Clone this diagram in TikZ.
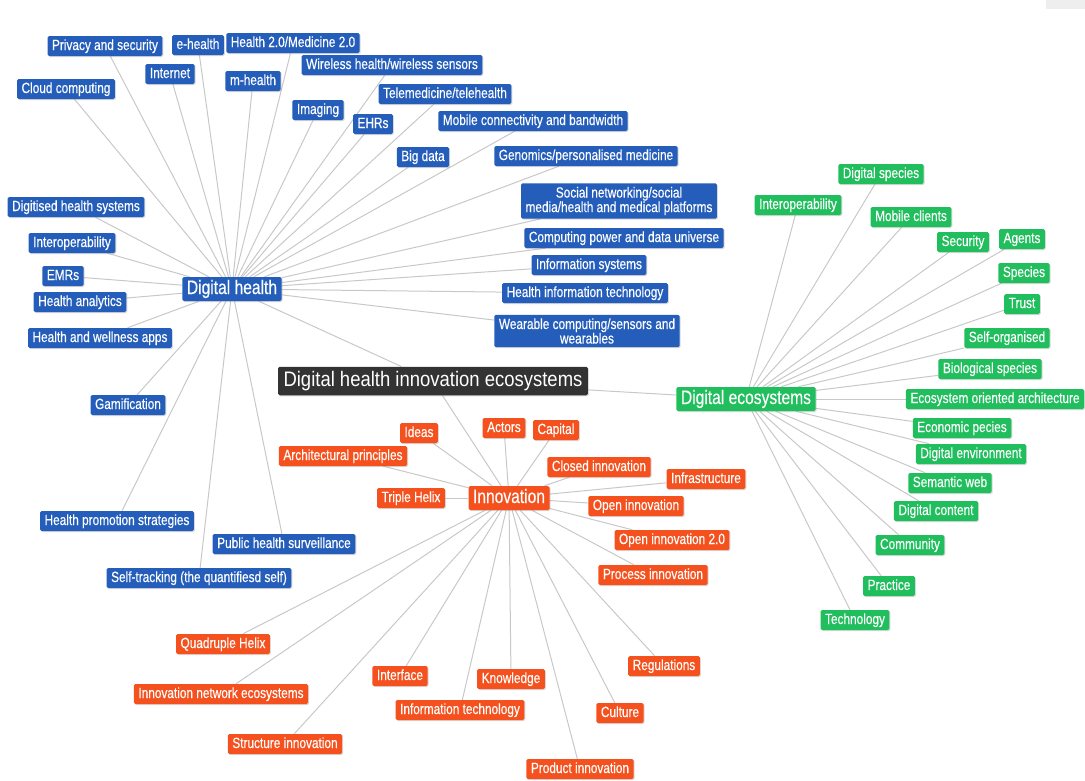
\documentclass[tikz,border=0pt]{standalone}
\usepackage{fontspec}
\setmainfont[FakeStretch=0.8,FakeBold=0.3]{Liberation Sans}
\newfontfamily\hubfont[FakeStretch=0.88]{Liberation Sans}
\usetikzlibrary{shadows,backgrounds}
\definecolor{dhblue}{RGB}{36,94,186}
\definecolor{degreen}{RGB}{32,190,92}
\definecolor{innored}{RGB}{244,81,30}
\definecolor{hubdark}{RGB}{51,51,51}
\definecolor{linkgray}{RGB}{200,200,200}
\definecolor{cornergray}{RGB}{238,238,238}
\tikzset{
  box/.style={text=white, rounded corners=1.5pt,
    drop shadow={shadow xshift=1pt, shadow yshift=-1pt, opacity=0.3}},
  leaf/.style={box, font=\fontsize{14.8}{14.8}\selectfont, inner xsep=4.5pt,
    inner ysep=3pt, text height=11pt, text depth=3pt},
  leaftwo/.style={box, font=\fontsize{14.8}{14.5}\selectfont, inner xsep=4.5pt,
    inner ysep=3.5pt, align=center},
  hub/.style={box, font=\fontsize{19.5}{19.5}\selectfont, inner xsep=4.5pt,
    inner ysep=3pt, text height=14pt, text depth=4pt},
  dh/.style={fill=dhblue},
  de/.style={fill=degreen},
  inno/.style={fill=innored},
  link/.style={draw=linkgray, line width=1pt}
}
\begin{document}
\begin{tikzpicture}[x=1pt,y=-1pt]
 \useasboundingbox (0,0) rectangle (1085,780);
 \fill[cornergray] (1046,0) rectangle (1085,9);

 %hubs
 \node[box, fill=hubdark, font=\hubfont\fontsize{21}{21}\selectfont, inner xsep=5.5pt,
   inner ysep=4.5pt, text height=15pt, text depth=4.5pt] (dhie) at (433,381) {Digital health innovation ecosystems};
 \node[hub, dh] (dhealth) at (232,289) {Digital health};
 \node[hub, de] (decosys) at (746,399) {Digital ecosystems};
 \node[hub, inno] (innovation) at (509,498) {Innovation};

 %digital health
 \node[leaf, dh] (privacy) at (105,46) {Privacy and security};
 \node[leaf, dh] (ehealth) at (198,45) {e-health};
 \node[leaf, dh] (healthtwo) at (293,43) {Health 2.0/Medicine 2.0};
 \node[leaf, dh] (internet) at (170,74) {Internet};
 \node[leaf, dh] (mhealth) at (253,81) {m-health};
 \node[leaf, dh] (cloud) at (66,89) {Cloud computing};
 \node[leaf, dh] (wireless) at (392,65) {Wireless health/wireless sensors};
 \node[leaf, dh] (telemed) at (445,94) {Telemedicine/telehealth};
 \node[leaf, dh] (imaging) at (318,110) {Imaging};
 \node[leaf, dh] (ehrs) at (373,124) {EHRs};
 \node[leaf, dh] (mobile) at (533,121) {Mobile connectivity and bandwidth};
 \node[leaf, dh] (bigdata) at (423,157) {Big data};
 \node[leaf, dh] (genomics) at (586,156) {Genomics/personalised medicine};
 \node[leaftwo, dh] (social) at (619,201) {Social networking/social\\media/health and medical platforms};
 \node[leaf, dh] (computing) at (624,238) {Computing power and data universe};
 \node[leaf, dh] (infosys) at (589,265) {Information systems};
 \node[leaf, dh] (healthit) at (585,293) {Health information technology};
 \node[leaftwo, dh] (wearable) at (587,331) {Wearable computing/sensors and\\wearables};
 \node[leaf, dh] (digitised) at (76,207) {Digitised health systems};
 \node[leaf, dh] (interopdh) at (72,243) {Interoperability};
 \node[leaf, dh] (emrs) at (63,276) {EMRs};
 \node[leaf, dh] (analytics) at (80,302) {Health analytics};
 \node[leaf, dh] (wellness) at (100,338) {Health and wellness apps};
 \node[leaf, dh] (gamification) at (128,405) {Gamification};
 \node[leaf, dh] (promotion) at (117,521) {Health promotion strategies};
 \node[leaf, dh] (surveillance) at (284,544) {Public health surveillance};
 \node[leaf, dh] (selftracking) at (199,578) {Self-tracking (the quantifiesd self)};

 %digital ecosystems
 \node[leaf, de] (digspecies) at (881,174) {Digital species};
 \node[leaf, de] (interopde) at (798,205) {Interoperability};
 \node[leaf, de] (mobileclients) at (911,217) {Mobile clients};
 \node[leaf, de] (security) at (963,242) {Security};
 \node[leaf, de] (agents) at (1022,239) {Agents};
 \node[leaf, de] (species) at (1024,273) {Species};
 \node[leaf, de] (trust) at (1022,304) {Trust};
 \node[leaf, de] (selforg) at (1007,338) {Self-organised};
 \node[leaf, de] (biospecies) at (990,369) {Biological species};
 \node[leaf, de] (ecoarch) at (995,399) {Ecosystem oriented architecture};
 \node[leaf, de] (economic) at (962,428) {Economic pecies};
 \node[leaf, de] (digenv) at (971,454) {Digital environment};
 \node[leaf, de] (semantic) at (950,483) {Semantic web};
 \node[leaf, de] (digcontent) at (936,511) {Digital content};
 \node[leaf, de] (community) at (910,545) {Community};
 \node[leaf, de] (practice) at (889,586) {Practice};
 \node[leaf, de] (technology) at (855,620) {Technology};

 %innovation
 \node[leaf, inno] (ideas) at (419,433) {Ideas};
 \node[leaf, inno] (actors) at (504,428) {Actors};
 \node[leaf, inno] (capital) at (556,430) {Capital};
 \node[leaf, inno] (archprinc) at (343,456) {Architectural principles};
 \node[leaf, inno] (closed) at (599,467) {Closed innovation};
 \node[leaf, inno] (infrastructure) at (706,479) {Infrastructure};
 \node[leaf, inno] (triplehelix) at (411,498) {Triple Helix};
 \node[leaf, inno] (openinno) at (636,506) {Open innovation};
 \node[leaf, inno] (opentwo) at (672,540) {Open innovation 2.0};
 \node[leaf, inno] (process) at (653,575) {Process innovation};
 \node[leaf, inno] (quadruple) at (223,644) {Quadruple Helix};
 \node[leaf, inno] (interface) at (400,676) {Interface};
 \node[leaf, inno] (knowledge) at (511,679) {Knowledge};
 \node[leaf, inno] (regulations) at (664,666) {Regulations};
 \node[leaf, inno] (network) at (221,694) {Innovation network ecosystems};
 \node[leaf, inno] (infotech) at (460,710) {Information technology};
 \node[leaf, inno] (culture) at (620,713) {Culture};
 \node[leaf, inno] (structure) at (285,744) {Structure innovation};
 \node[leaf, inno] (product) at (580,769) {Product innovation};

 \begin{pgfonlayer}{background}
 %hub links
 \draw[link] (dhie) -- (dhealth);
 \draw[link] (dhie) -- (decosys);
 \draw[link] (dhie) -- (innovation);

 %digital health links
 \draw[link] (dhealth) -- (privacy);
 \draw[link] (dhealth) -- (ehealth);
 \draw[link] (dhealth) -- (healthtwo);
 \draw[link] (dhealth) -- (internet);
 \draw[link] (dhealth) -- (mhealth);
 \draw[link] (dhealth) -- (cloud);
 \draw[link] (dhealth) -- (wireless);
 \draw[link] (dhealth) -- (telemed);
 \draw[link] (dhealth) -- (imaging);
 \draw[link] (dhealth) -- (ehrs);
 \draw[link] (dhealth) -- (mobile);
 \draw[link] (dhealth) -- (bigdata);
 \draw[link] (dhealth) -- (genomics);
 \draw[link] (dhealth) -- (social);
 \draw[link] (dhealth) -- (computing);
 \draw[link] (dhealth) -- (infosys);
 \draw[link] (dhealth) -- (healthit);
 \draw[link] (dhealth) -- (wearable);
 \draw[link] (dhealth) -- (digitised);
 \draw[link] (dhealth) -- (interopdh);
 \draw[link] (dhealth) -- (emrs);
 \draw[link] (dhealth) -- (analytics);
 \draw[link] (dhealth) -- (wellness);
 \draw[link] (dhealth) -- (gamification);
 \draw[link] (dhealth) -- (promotion);
 \draw[link] (dhealth) -- (surveillance);
 \draw[link] (dhealth) -- (selftracking);

 %digital ecosystems links
 \draw[link] (decosys) -- (digspecies);
 \draw[link] (decosys) -- (interopde);
 \draw[link] (decosys) -- (mobileclients);
 \draw[link] (decosys) -- (security);
 \draw[link] (decosys) -- (agents);
 \draw[link] (decosys) -- (species);
 \draw[link] (decosys) -- (trust);
 \draw[link] (decosys) -- (selforg);
 \draw[link] (decosys) -- (biospecies);
 \draw[link] (decosys) -- (ecoarch);
 \draw[link] (decosys) -- (economic);
 \draw[link] (decosys) -- (digenv);
 \draw[link] (decosys) -- (semantic);
 \draw[link] (decosys) -- (digcontent);
 \draw[link] (decosys) -- (community);
 \draw[link] (decosys) -- (practice);
 \draw[link] (decosys) -- (technology);

 %innovation links
 \draw[link] (innovation) -- (ideas);
 \draw[link] (innovation) -- (actors);
 \draw[link] (innovation) -- (capital);
 \draw[link] (innovation) -- (archprinc);
 \draw[link] (innovation) -- (closed);
 \draw[link] (innovation) -- (infrastructure);
 \draw[link] (innovation) -- (triplehelix);
 \draw[link] (innovation) -- (openinno);
 \draw[link] (innovation) -- (opentwo);
 \draw[link] (innovation) -- (process);
 \draw[link] (innovation) -- (quadruple);
 \draw[link] (innovation) -- (interface);
 \draw[link] (innovation) -- (knowledge);
 \draw[link] (innovation) -- (regulations);
 \draw[link] (innovation) -- (network);
 \draw[link] (innovation) -- (infotech);
 \draw[link] (innovation) -- (culture);
 \draw[link] (innovation) -- (structure);
 \draw[link] (innovation) -- (product);
 \end{pgfonlayer}
\end{tikzpicture}
\end{document}
